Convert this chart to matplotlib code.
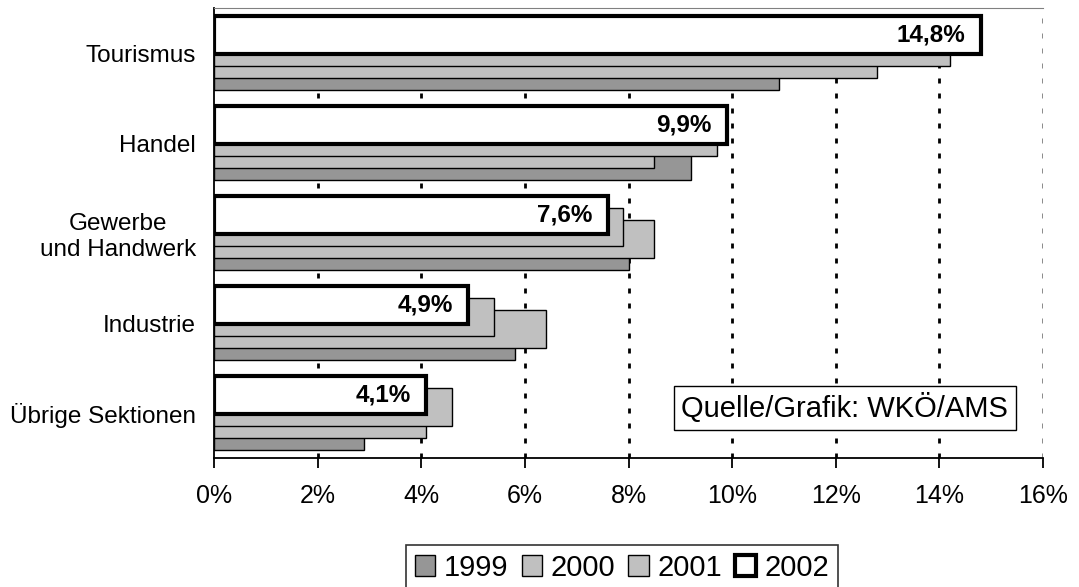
import matplotlib.pyplot as plt
import numpy as np

plt.rcParams['font.family'] = ['Liberation Sans', 'DejaVu Sans']

kategorien = ['Tourismus', 'Handel', 'Gewerbe\nund Handwerk', 'Industrie', 'Übrige Sektionen']
jahre = ['1999', '2000', '2001', '2002']
w1999 = [10.9, 9.2, 8.0, 5.8, 2.9]
w2000 = [12.8, 8.5, 8.5, 6.4, 4.1]
w2001 = [14.2, 9.7, 7.9, 5.4, 4.6]
w2002 = [14.8, 9.9, 7.6, 4.9, 4.1]
x_ticks = [0, 2, 4, 6, 8, 10, 12, 14, 16]
quelle = 'Quelle/Grafik: WKÖ/AMS'

fig = plt.figure(figsize=(10.79, 5.87), dpi=100)
ax = fig.add_axes([214/1079, 1-458/587, 829/1079, 450/587])

y = np.arange(len(kategorien))
h = 0.42   # bar height
d = 0.133  # offset between overlapping bars

# 1999 zuerst (unten), 2002 zuletzt (oben drauf)
serien = [w1999, w2000, w2001, w2002]
farben = ['#969696', '#c0c0c0', '#c0c0c0', 'white']
for j, (werte, farbe) in enumerate(zip(serien, farben)):
    if jahre[j] == '2002':
        lw = 3.0
    else:
        lw = 1.0
    ax.barh(y + (1.5 - j) * d, werte, height=h, color=farbe, edgecolor='black',
            linewidth=lw, zorder=2 + j, label=jahre[j])

# Werte-Beschriftung im 2002-Balken
for i, v in enumerate(w2002):
    ax.annotate(f"{v:.1f}".replace('.', ',') + '%', (v, y[i] - 1.5 * d),
                xytext=(-11, 0), textcoords='offset points', ha='right', va='center',
                fontsize=17.5, fontweight='bold', zorder=10)

ax.set_xlim(0, 16)
ax.set_ylim(len(kategorien) - 0.5, -0.5)
ax.set_xticks(x_ticks)
ax.set_xticklabels([f"{t}%" for t in x_ticks], fontsize=18)
ax.set_yticks(y)
ax.set_yticklabels(kategorien, fontsize=17.5, multialignment='center')
ax.tick_params(axis='y', length=0, pad=13)
ax.tick_params(axis='x', length=7, width=1.3, direction='out', pad=12)

# gestrichelte Gitterlinien
for t in x_ticks[1:-1]:
    ax.axvline(t, color='black', lw=2.0, linestyle=(0, (1.8, 3.6)), zorder=1)
ax.axvline(16, color='#808080', lw=2.0, linestyle=(0, (1.8, 3.6)), zorder=1)

ax.spines['left'].set_linewidth(1.3)
ax.spines['bottom'].set_linewidth(1.3)
ax.spines['top'].set_color('#808080')
ax.spines['right'].set_visible(False)

ax.text(0.761, 0.111, quelle, transform=ax.transAxes, ha='center', va='center',
        fontsize=21, zorder=12,
        bbox=dict(boxstyle='square,pad=0.25', facecolor='white', edgecolor='black', linewidth=1))

leg = fig.legend(loc='upper center', bbox_to_anchor=(622/1079, 1-545/587), ncol=4,
                 fontsize=21, frameon=True, fancybox=False, edgecolor='black',
                 handlelength=0.7, handleheight=0.7, handletextpad=0.3,
                 columnspacing=0.45, borderpad=0.3, borderaxespad=0)
leg.get_frame().set_linewidth(1.2)

fig.savefig('out.png', dpi=100)
